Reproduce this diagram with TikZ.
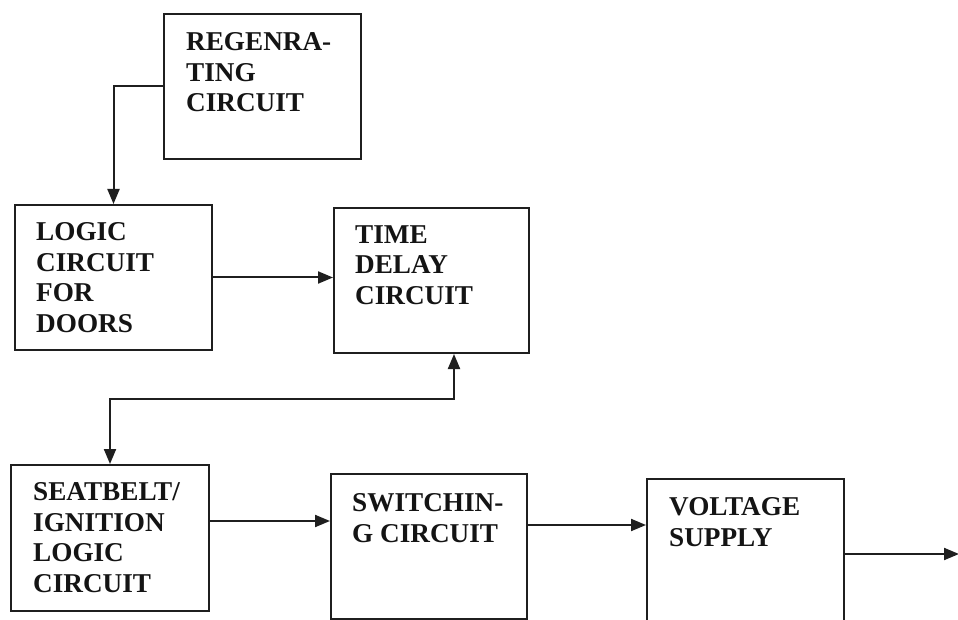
\documentclass[tikz,border=0pt]{standalone}
\usepackage{fontspec}
\setmainfont{Liberation Serif}
\usetikzlibrary{arrows.meta,calc}
\begin{document}
\begin{tikzpicture}[x=1pt,y=-1pt,
  blk/.style={draw=black!88,line width=2pt,rectangle,inner sep=0pt,anchor=north west},
  lbl/.style={anchor=north west,inner sep=0pt,align=left,text=black!92,
    font=\bfseries\fontsize{27.2}{30.8}\selectfont},
  arr/.style={draw=black!88,line width=2pt,-{Triangle[length=15pt,width=12pt]}},
  darr/.style={draw=black!88,line width=2pt,{Triangle[length=15pt,width=12pt]}-{Triangle[length=15pt,width=12pt]}}]
\clip (0,0) rectangle (958,620);
\fill[white] (0,0) rectangle (958,620);
% boxes
\node[blk,minimum width=197pt,minimum height=145pt] (regen) at (163,13) {};
\node[blk,minimum width=197pt,minimum height=145pt] (logic) at (14,204) {};
\node[blk,minimum width=195pt,minimum height=145pt] (time) at (333,207) {};
\node[blk,minimum width=198pt,minimum height=146pt] (seat) at (10,464) {};
\node[blk,minimum width=196pt,minimum height=145pt] (switch) at (330,473) {};
\node[blk,minimum width=197pt,minimum height=152pt] (volt) at (646,478) {};
% labels
\node[lbl] (tregen) at ($(regen.north west)+(23,19)$) {REGENRA-\\TING\\CIRCUIT};
\node[lbl] (tlogic) at ($(logic.north west)+(22,18)$) {LOGIC\\CIRCUIT\\FOR\\DOORS};
\node[lbl] (ttime) at ($(time.north west)+(22,18)$) {TIME\\DELAY\\CIRCUIT};
\node[lbl] (tseat) at ($(seat.north west)+(23,18)$) {SEATBELT/\\IGNITION\\LOGIC\\CIRCUIT};
\node[lbl] (tswitch) at ($(switch.north west)+(22,20)$) {SWITCHIN-\\G CIRCUIT};
\node[lbl] (tvolt) at ($(volt.north west)+(23,19)$) {VOLTAGE\\SUPPLY};
% connectors
\coordinate (j) at (454,399);
\coordinate (out) at (959,554);
\draw[arr] (regen.west) -| (logic.north);
\draw[arr] (logic.east) -- (logic.east -| time.west);
\draw[darr] (seat.north) |- (j) -- (j |- time.south);
\draw[arr] ([yshift=17pt]seat.east) -- ([yshift=17pt]seat.east -| switch.west);
\draw[arr] ([yshift=21.5pt]switch.east) -- ([yshift=21.5pt]switch.east -| volt.west);
\draw[arr] (volt.east |- out) -- (out);
\end{tikzpicture}
\end{document}
